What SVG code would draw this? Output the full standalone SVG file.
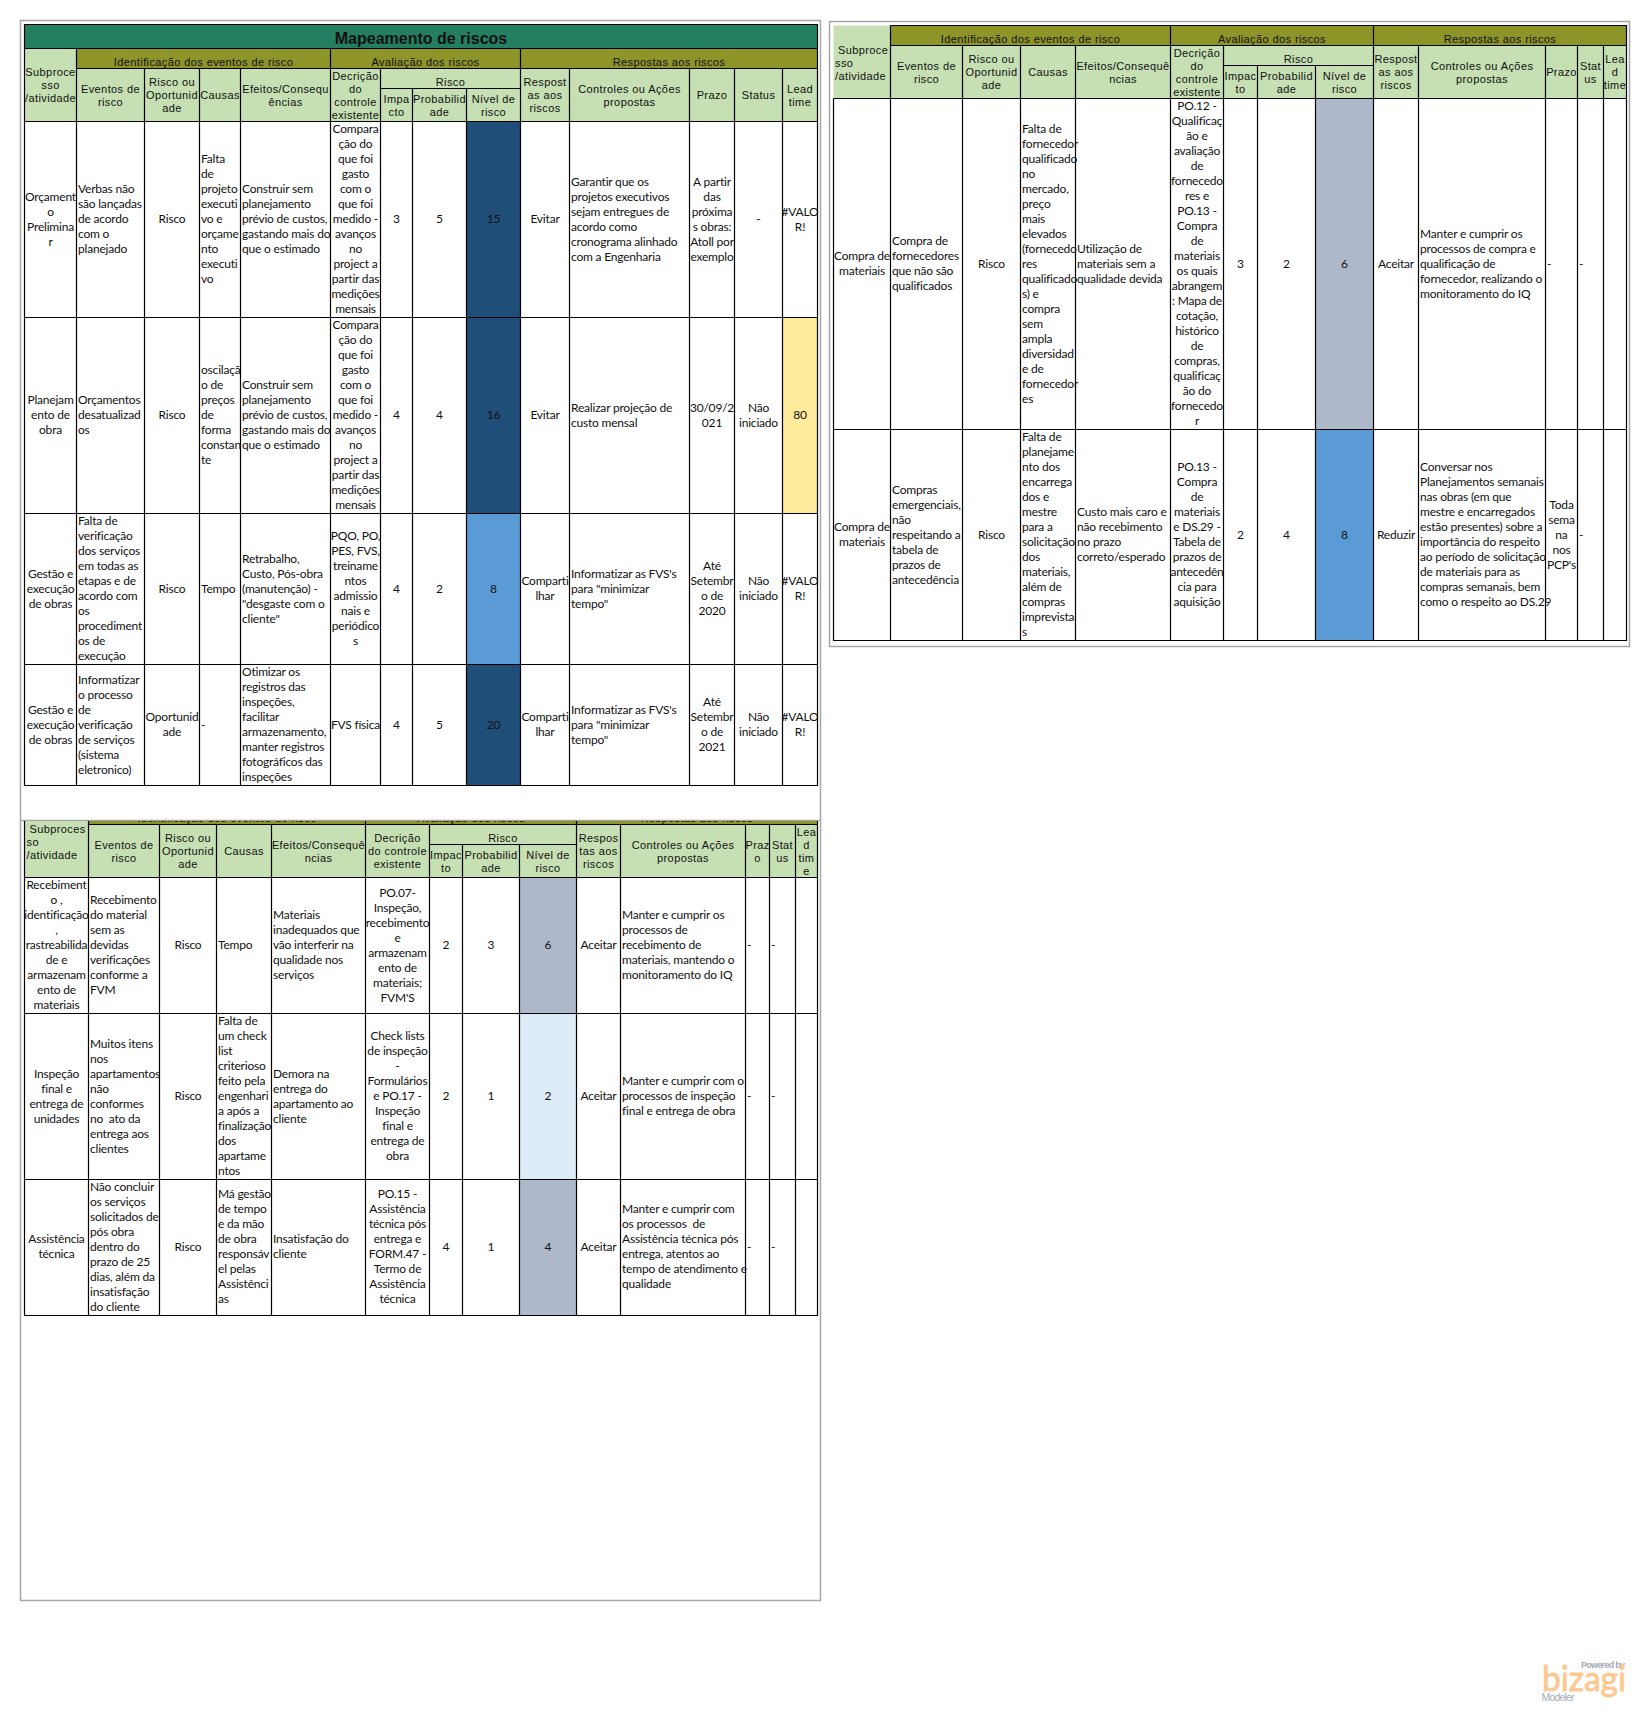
<svg xmlns="http://www.w3.org/2000/svg" width="1648" height="1713" viewBox="0 0 1648 1713">
<style>
text{fill:#111}
.h{font:11px "Liberation Sans",Arial,sans-serif;letter-spacing:.4px}
.b{font:12px Lato,"Liberation Sans",sans-serif;letter-spacing:-.2px}
.m{text-anchor:middle}
.t{font:bold 16px "Liberation Sans",Arial,sans-serif}
.frame{fill:#fff;stroke:#a6a6a6;stroke-width:1.5}
.grid{fill:none;stroke:#000;stroke-width:1.2}
.teal{fill:#247e62}.olive{fill:#8d9428}.green{fill:#c6dfb3}
.dark{fill:#1f4e78}.mid{fill:#5b9bd5}.gray{fill:#adb9ca}.pale{fill:#ddebf7}.yellow{fill:#ffeb9c}
</style>
<defs><clipPath id="clip3"><rect x="24" y="821" width="794" height="60"/></clipPath></defs>
<rect width="1648" height="1713" fill="#fff"/>
<rect class="frame" x="20.5" y="20.5" width="800" height="1580"/>
<path d="M20.5 820.5H820.5" fill="none" stroke="#a6a6a6" stroke-width="1.5"/>
<rect class="frame" x="829.5" y="21.5" width="800" height="625"/>

<g id="table-1">
<rect class="teal" x="24.5" y="24.5" width="793" height="24"/>
<rect class="green" x="24.5" y="48.5" width="793" height="73"/>
<rect class="olive" x="76.5" y="48.5" width="741" height="20"/>
<rect class="dark" x="466.5" y="121.5" width="54" height="392"/>
<rect class="mid" x="466.5" y="513.5" width="54" height="151"/>
<rect class="dark" x="466.5" y="664.5" width="54" height="121"/>
<rect class="yellow" x="782.5" y="317.5" width="35" height="196"/>
<path class="grid" d="M24.5 24.5H817.5V785.5H24.5ZM24.5 48.5H817.5M76.5 68.5H817.5M380.5 88.5H520.5M24.5 121.5H817.5M24.5 317.5H817.5M24.5 513.5H817.5M24.5 664.5H817.5M76.5 48.5V785.5M330.5 48.5V785.5M520.5 48.5V785.5M144.5 68.5V785.5M199.5 68.5V785.5M240.5 68.5V785.5M380.5 68.5V785.5M569.5 68.5V785.5M689.5 68.5V785.5M734.5 68.5V785.5M782.5 68.5V785.5M412.5 88.5V785.5M466.5 88.5V785.5"/>
<text class="t m" x="421" y="44">Mapeamento de riscos</text>
<text class="h m" x="203.5" y="66">Identificação dos eventos de risco</text>
<text class="h m" x="425.5" y="66">Avaliação dos riscos</text>
<text class="h m" x="669" y="66">Respostas aos riscos</text>
<text class="h m" x="50.5" y="76">Subproce<tspan x="50.5" dy="13">sso</tspan><tspan x="50.5" dy="13">/atividade</tspan></text>
<text class="h m" x="110.5" y="93">Eventos de<tspan x="110.5" dy="13">risco</tspan></text>
<text class="h m" x="172" y="86">Risco ou<tspan x="172" dy="13">Oportunid</tspan><tspan x="172" dy="13">ade</tspan></text>
<text class="h m" x="220" y="99">Causas</text>
<text class="h m" x="285.5" y="93">Efeitos/Consequ<tspan x="285.5" dy="13">ências</tspan></text>
<text class="h m" x="355.5" y="80">Decrição<tspan x="355.5" dy="13">do</tspan><tspan x="355.5" dy="13">controle</tspan><tspan x="355.5" dy="13">existente</tspan></text>
<text class="h m" x="450.5" y="86">Risco</text>
<text class="h m" x="396.5" y="103">Impa<tspan x="396.5" dy="13">cto</tspan></text>
<text class="h m" x="439.5" y="103">Probabilid<tspan x="439.5" dy="13">ade</tspan></text>
<text class="h m" x="493.5" y="103">Nível de<tspan x="493.5" dy="13">risco</tspan></text>
<text class="h m" x="545" y="86">Respost<tspan x="545" dy="13">as aos</tspan><tspan x="545" dy="13">riscos</tspan></text>
<text class="h m" x="629.5" y="93">Controles ou Ações<tspan x="629.5" dy="13">propostas</tspan></text>
<text class="h m" x="712" y="99">Prazo</text>
<text class="h m" x="758.5" y="99">Status</text>
<text class="h m" x="800" y="93">Lead<tspan x="800" dy="13">time</tspan></text>

<text class="b m" x="50.5" y="200.5">Orçament<tspan x="50.5" dy="15">o</tspan><tspan x="50.5" dy="15">Prelimina</tspan><tspan x="50.5" dy="15">r</tspan></text>
<text class="b" x="78" y="193">Verbas não<tspan x="78" dy="15">são lançadas</tspan><tspan x="78" dy="15">de acordo</tspan><tspan x="78" dy="15">com o</tspan><tspan x="78" dy="15">planejado</tspan></text>
<text class="b m" x="172" y="223">Risco</text>
<text class="b" x="201" y="163">Falta<tspan x="201" dy="15">de</tspan><tspan x="201" dy="15">projeto</tspan><tspan x="201" dy="15">executi</tspan><tspan x="201" dy="15">vo e</tspan><tspan x="201" dy="15">orçame</tspan><tspan x="201" dy="15">nto</tspan><tspan x="201" dy="15">executi</tspan><tspan x="201" dy="15">vo</tspan></text>
<text class="b" x="242" y="193">Construir sem<tspan x="242" dy="15">planejamento</tspan><tspan x="242" dy="15">prévio de custos,</tspan><tspan x="242" dy="15">gastando mais do</tspan><tspan x="242" dy="15">que o estimado</tspan></text>
<text class="b m" x="355.5" y="133">Compara<tspan x="355.5" dy="15">ção do</tspan><tspan x="355.5" dy="15">que foi</tspan><tspan x="355.5" dy="15">gasto</tspan><tspan x="355.5" dy="15">com o</tspan><tspan x="355.5" dy="15">que foi</tspan><tspan x="355.5" dy="15">medido -</tspan><tspan x="355.5" dy="15">avanços</tspan><tspan x="355.5" dy="15">no</tspan><tspan x="355.5" dy="15">project a</tspan><tspan x="355.5" dy="15">partir das</tspan><tspan x="355.5" dy="15">medições</tspan><tspan x="355.5" dy="15">mensais</tspan></text>
<text class="b m" x="396.5" y="223">3</text>
<text class="b m" x="439.5" y="223">5</text>
<text class="b m" x="493.5" y="223">15</text>
<text class="b m" x="545" y="223">Evitar</text>
<text class="b" x="571" y="185.5">Garantir que os<tspan x="571" dy="15">projetos executivos</tspan><tspan x="571" dy="15">sejam entregues de</tspan><tspan x="571" dy="15">acordo como</tspan><tspan x="571" dy="15">cronograma alinhado</tspan><tspan x="571" dy="15">com a Engenharia</tspan></text>
<text class="b m" x="712" y="185.5">A partir<tspan x="712" dy="15">das</tspan><tspan x="712" dy="15">próxima</tspan><tspan x="712" dy="15">s obras:</tspan><tspan x="712" dy="15">Atoll por</tspan><tspan x="712" dy="15">exemplo</tspan></text>
<text class="b m" x="758.5" y="223">-</text>
<text class="b m" x="800" y="215.5">#VALO<tspan x="800" dy="15">R!</tspan></text>

<text class="b m" x="50.5" y="404">Planejam<tspan x="50.5" dy="15">ento de</tspan><tspan x="50.5" dy="15">obra</tspan></text>
<text class="b" x="78" y="404">Orçamentos<tspan x="78" dy="15">desatualizad</tspan><tspan x="78" dy="15">os</tspan></text>
<text class="b m" x="172" y="419">Risco</text>
<text class="b" x="201" y="374">oscilaçã<tspan x="201" dy="15">o de</tspan><tspan x="201" dy="15">preços</tspan><tspan x="201" dy="15">de</tspan><tspan x="201" dy="15">forma</tspan><tspan x="201" dy="15">constan</tspan><tspan x="201" dy="15">te</tspan></text>
<text class="b" x="242" y="389">Construir sem<tspan x="242" dy="15">planejamento</tspan><tspan x="242" dy="15">prévio de custos,</tspan><tspan x="242" dy="15">gastando mais do</tspan><tspan x="242" dy="15">que o estimado</tspan></text>
<text class="b m" x="355.5" y="329">Compara<tspan x="355.5" dy="15">ção do</tspan><tspan x="355.5" dy="15">que foi</tspan><tspan x="355.5" dy="15">gasto</tspan><tspan x="355.5" dy="15">com o</tspan><tspan x="355.5" dy="15">que foi</tspan><tspan x="355.5" dy="15">medido -</tspan><tspan x="355.5" dy="15">avanços</tspan><tspan x="355.5" dy="15">no</tspan><tspan x="355.5" dy="15">project a</tspan><tspan x="355.5" dy="15">partir das</tspan><tspan x="355.5" dy="15">medições</tspan><tspan x="355.5" dy="15">mensais</tspan></text>
<text class="b m" x="396.5" y="419">4</text>
<text class="b m" x="439.5" y="419">4</text>
<text class="b m" x="493.5" y="419">16</text>
<text class="b m" x="545" y="419">Evitar</text>
<text class="b" x="571" y="411.5">Realizar projeção de<tspan x="571" dy="15">custo mensal</tspan></text>
<text class="b m" x="712" y="411.5">30/09/2<tspan x="712" dy="15">021</tspan></text>
<text class="b m" x="758.5" y="411.5">Não<tspan x="758.5" dy="15">iniciado</tspan></text>
<text class="b m" x="800" y="419">80</text>

<text class="b m" x="50.5" y="577.5">Gestão e<tspan x="50.5" dy="15">execução</tspan><tspan x="50.5" dy="15">de obras</tspan></text>
<text class="b" x="78" y="525">Falta de<tspan x="78" dy="15">verificação</tspan><tspan x="78" dy="15">dos serviços</tspan><tspan x="78" dy="15">em todas as</tspan><tspan x="78" dy="15">etapas e de</tspan><tspan x="78" dy="15">acordo com</tspan><tspan x="78" dy="15">os</tspan><tspan x="78" dy="15">procediment</tspan><tspan x="78" dy="15">os de</tspan><tspan x="78" dy="15">execução</tspan></text>
<text class="b m" x="172" y="592.5">Risco</text>
<text class="b" x="201" y="592.5">Tempo</text>
<text class="b" x="242" y="562.5">Retrabalho,<tspan x="242" dy="15">Custo, Pós-obra</tspan><tspan x="242" dy="15">(manutenção) -</tspan><tspan x="242" dy="15">"desgaste com o</tspan><tspan x="242" dy="15">cliente"</tspan></text>
<text class="b m" x="355.5" y="540">PQO, PO,<tspan x="355.5" dy="15">PES, FVS,</tspan><tspan x="355.5" dy="15">treiname</tspan><tspan x="355.5" dy="15">ntos</tspan><tspan x="355.5" dy="15">admissio</tspan><tspan x="355.5" dy="15">nais e</tspan><tspan x="355.5" dy="15">periódico</tspan><tspan x="355.5" dy="15">s</tspan></text>
<text class="b m" x="396.5" y="592.5">4</text>
<text class="b m" x="439.5" y="592.5">2</text>
<text class="b m" x="493.5" y="592.5">8</text>
<text class="b m" x="545" y="585">Comparti<tspan x="545" dy="15">lhar</tspan></text>
<text class="b" x="571" y="577.5">Informatizar as FVS's<tspan x="571" dy="15">para "minimizar</tspan><tspan x="571" dy="15">tempo"</tspan></text>
<text class="b m" x="712" y="570">Até<tspan x="712" dy="15">Setembr</tspan><tspan x="712" dy="15">o de</tspan><tspan x="712" dy="15">2020</tspan></text>
<text class="b m" x="758.5" y="585">Não<tspan x="758.5" dy="15">iniciado</tspan></text>
<text class="b m" x="800" y="585">#VALO<tspan x="800" dy="15">R!</tspan></text>

<text class="b m" x="50.5" y="713.5">Gestão e<tspan x="50.5" dy="15">execução</tspan><tspan x="50.5" dy="15">de obras</tspan></text>
<text class="b" x="78" y="683.5">Informatizar<tspan x="78" dy="15">o processo</tspan><tspan x="78" dy="15">de</tspan><tspan x="78" dy="15">verificação</tspan><tspan x="78" dy="15">de serviços</tspan><tspan x="78" dy="15">(sistema</tspan><tspan x="78" dy="15">eletronico)</tspan></text>
<text class="b m" x="172" y="721">Oportunid<tspan x="172" dy="15">ade</tspan></text>
<text class="b" x="201" y="728.5">-</text>
<text class="b" x="242" y="676">Otimizar os<tspan x="242" dy="15">registros das</tspan><tspan x="242" dy="15">inspeções,</tspan><tspan x="242" dy="15">facilitar</tspan><tspan x="242" dy="15">armazenamento,</tspan><tspan x="242" dy="15">manter registros</tspan><tspan x="242" dy="15">fotográficos das</tspan><tspan x="242" dy="15">inspeções</tspan></text>
<text class="b m" x="355.5" y="728.5">FVS física</text>
<text class="b m" x="396.5" y="728.5">4</text>
<text class="b m" x="439.5" y="728.5">5</text>
<text class="b m" x="493.5" y="728.5">20</text>
<text class="b m" x="545" y="721">Comparti<tspan x="545" dy="15">lhar</tspan></text>
<text class="b" x="571" y="713.5">Informatizar as FVS's<tspan x="571" dy="15">para "minimizar</tspan><tspan x="571" dy="15">tempo"</tspan></text>
<text class="b m" x="712" y="706">Até<tspan x="712" dy="15">Setembr</tspan><tspan x="712" dy="15">o de</tspan><tspan x="712" dy="15">2021</tspan></text>
<text class="b m" x="758.5" y="721">Não<tspan x="758.5" dy="15">iniciado</tspan></text>
<text class="b m" x="800" y="721">#VALO<tspan x="800" dy="15">R!</tspan></text>
</g>

<g id="table-2" transform="translate(1 0)">
<rect class="green" x="832.5" y="25.5" width="793" height="73"/>
<rect class="olive" x="889.5" y="25.5" width="736" height="20"/>
<rect class="gray" x="1314.5" y="98.5" width="58" height="331"/>
<rect class="mid" x="1314.5" y="429.5" width="58" height="211"/>
<path class="grid" d="M889.5 25.5H1625.5V640.5H832.5V98.5M889.5 45.5H1625.5M1222.5 65.5H1372.5M832.5 98.5H1625.5M832.5 429.5H1625.5M889.5 25.5V640.5M1169.5 25.5V640.5M1372.5 25.5V640.5M961.5 45.5V640.5M1019.5 45.5V640.5M1074.5 45.5V640.5M1222.5 45.5V640.5M1417.5 45.5V640.5M1544.5 45.5V640.5M1576.5 45.5V640.5M1602.5 45.5V640.5M1256.5 65.5V640.5M1314.5 65.5V640.5"/>
<text class="h m" x="1029.5" y="43">Identificação dos eventos de risco</text>
<text class="h m" x="1271" y="43">Avaliação dos riscos</text>
<text class="h m" x="1499" y="43">Respostas aos riscos</text>
<text class="h" x="837" y="54">Subproce<tspan x="834" dy="13">sso</tspan><tspan x="834" dy="13">/atividade</tspan></text>
<text class="h m" x="925.5" y="70">Eventos de<tspan x="925.5" dy="13">risco</tspan></text>
<text class="h m" x="990.5" y="63">Risco ou<tspan x="990.5" dy="13">Oportunid</tspan><tspan x="990.5" dy="13">ade</tspan></text>
<text class="h m" x="1047" y="76">Causas</text>
<text class="h m" x="1122" y="70">Efeitos/Consequê<tspan x="1122" dy="13">ncias</tspan></text>
<text class="h m" x="1196" y="57">Decrição<tspan x="1196" dy="13">do</tspan><tspan x="1196" dy="13">controle</tspan><tspan x="1196" dy="13">existente</tspan></text>
<text class="h m" x="1297.5" y="63">Risco</text>
<text class="h m" x="1239.5" y="80">Impac<tspan x="1239.5" dy="13">to</tspan></text>
<text class="h m" x="1285.5" y="80">Probabilid<tspan x="1285.5" dy="13">ade</tspan></text>
<text class="h m" x="1343.5" y="80">Nível de<tspan x="1343.5" dy="13">risco</tspan></text>
<text class="h m" x="1395" y="63">Respost<tspan x="1395" dy="13">as aos</tspan><tspan x="1395" dy="13">riscos</tspan></text>
<text class="h m" x="1481" y="70">Controles ou Ações<tspan x="1481" dy="13">propostas</tspan></text>
<text class="h m" x="1560.5" y="76">Prazo</text>
<text class="h m" x="1589.5" y="70">Stat<tspan x="1589.5" dy="13">us</tspan></text>
<text class="h m" x="1614" y="63">Lea<tspan x="1614" dy="13">d</tspan><tspan x="1614" dy="13">time</tspan></text>

<text class="b m" x="861" y="260">Compra de<tspan x="861" dy="15">materiais</tspan></text>
<text class="b" x="891" y="245">Compra de<tspan x="891" dy="15">fornecedores</tspan><tspan x="891" dy="15">que não são</tspan><tspan x="891" dy="15">qualificados</tspan></text>
<text class="b m" x="990.5" y="267.5">Risco</text>
<text class="b" x="1021" y="132.5">Falta de<tspan x="1021" dy="15">fornecedor</tspan><tspan x="1021" dy="15">qualificado</tspan><tspan x="1021" dy="15">no</tspan><tspan x="1021" dy="15">mercado,</tspan><tspan x="1021" dy="15">preço</tspan><tspan x="1021" dy="15">mais</tspan><tspan x="1021" dy="15">elevados</tspan><tspan x="1021" dy="15">(fornecedo</tspan><tspan x="1021" dy="15">res</tspan><tspan x="1021" dy="15">qualificado</tspan><tspan x="1021" dy="15">s) e</tspan><tspan x="1021" dy="15">compra</tspan><tspan x="1021" dy="15">sem</tspan><tspan x="1021" dy="15">ampla</tspan><tspan x="1021" dy="15">diversidad</tspan><tspan x="1021" dy="15">e de</tspan><tspan x="1021" dy="15">fornecedor</tspan><tspan x="1021" dy="15">es</tspan></text>
<text class="b" x="1076" y="252.5">Utilização de<tspan x="1076" dy="15">materiais sem a</tspan><tspan x="1076" dy="15">qualidade devida</tspan></text>
<text class="b m" x="1196" y="110">PO.12 -<tspan x="1196" dy="15">Qualificaç</tspan><tspan x="1196" dy="15">ão e</tspan><tspan x="1196" dy="15">avaliação</tspan><tspan x="1196" dy="15">de</tspan><tspan x="1196" dy="15">fornecedo</tspan><tspan x="1196" dy="15">res e</tspan><tspan x="1196" dy="15">PO.13 -</tspan><tspan x="1196" dy="15">Compra</tspan><tspan x="1196" dy="15">de</tspan><tspan x="1196" dy="15">materiais</tspan><tspan x="1196" dy="15">os quais</tspan><tspan x="1196" dy="15">abrangem</tspan><tspan x="1196" dy="15">: Mapa de</tspan><tspan x="1196" dy="15">cotação,</tspan><tspan x="1196" dy="15">histórico</tspan><tspan x="1196" dy="15">de</tspan><tspan x="1196" dy="15">compras,</tspan><tspan x="1196" dy="15">qualificaç</tspan><tspan x="1196" dy="15">ão do</tspan><tspan x="1196" dy="15">fornecedo</tspan><tspan x="1196" dy="15">r</tspan></text>
<text class="b m" x="1239.5" y="267.5">3</text>
<text class="b m" x="1285.5" y="267.5">2</text>
<text class="b m" x="1343.5" y="267.5">6</text>
<text class="b m" x="1395" y="267.5">Aceitar</text>
<text class="b" x="1419" y="237.5">Manter e cumprir os<tspan x="1419" dy="15">processos de compra e</tspan><tspan x="1419" dy="15">qualificação de</tspan><tspan x="1419" dy="15">fornecedor, realizando o</tspan><tspan x="1419" dy="15">monitoramento do IQ</tspan></text>
<text class="b" x="1546" y="267.5">-</text>
<text class="b" x="1578" y="267.5">-</text>

<text class="b m" x="861" y="531">Compra de<tspan x="861" dy="15">materiais</tspan></text>
<text class="b" x="891" y="493.5">Compras<tspan x="891" dy="15">emergenciais,</tspan><tspan x="891" dy="15">não</tspan><tspan x="891" dy="15">respeitando a</tspan><tspan x="891" dy="15">tabela de</tspan><tspan x="891" dy="15">prazos de</tspan><tspan x="891" dy="15">antecedência</tspan></text>
<text class="b m" x="990.5" y="538.5">Risco</text>
<text class="b" x="1021" y="441">Falta de<tspan x="1021" dy="15">planejame</tspan><tspan x="1021" dy="15">nto dos</tspan><tspan x="1021" dy="15">encarrega</tspan><tspan x="1021" dy="15">dos e</tspan><tspan x="1021" dy="15">mestre</tspan><tspan x="1021" dy="15">para a</tspan><tspan x="1021" dy="15">solicitação</tspan><tspan x="1021" dy="15">dos</tspan><tspan x="1021" dy="15">materiais,</tspan><tspan x="1021" dy="15">além de</tspan><tspan x="1021" dy="15">compras</tspan><tspan x="1021" dy="15">imprevista</tspan><tspan x="1021" dy="15">s</tspan></text>
<text class="b" x="1076" y="516">Custo mais caro e<tspan x="1076" dy="15">não recebimento</tspan><tspan x="1076" dy="15">no prazo</tspan><tspan x="1076" dy="15">correto/esperado</tspan></text>
<text class="b m" x="1196" y="471">PO.13 -<tspan x="1196" dy="15">Compra</tspan><tspan x="1196" dy="15">de</tspan><tspan x="1196" dy="15">materiais</tspan><tspan x="1196" dy="15">e DS.29 -</tspan><tspan x="1196" dy="15">Tabela de</tspan><tspan x="1196" dy="15">prazos de</tspan><tspan x="1196" dy="15">antecedên</tspan><tspan x="1196" dy="15">cia para</tspan><tspan x="1196" dy="15">aquisição</tspan></text>
<text class="b m" x="1239.5" y="538.5">2</text>
<text class="b m" x="1285.5" y="538.5">4</text>
<text class="b m" x="1343.5" y="538.5">8</text>
<text class="b m" x="1395" y="538.5">Reduzir</text>
<text class="b" x="1419" y="471">Conversar nos<tspan x="1419" dy="15">Planejamentos semanais</tspan><tspan x="1419" dy="15">nas obras (em que</tspan><tspan x="1419" dy="15">mestre e encarregados</tspan><tspan x="1419" dy="15">estão presentes) sobre a</tspan><tspan x="1419" dy="15">importância do respeito</tspan><tspan x="1419" dy="15">ao período de solicitação</tspan><tspan x="1419" dy="15">de materiais para as</tspan><tspan x="1419" dy="15">compras semanais, bem</tspan><tspan x="1419" dy="15">como o respeito ao DS.29</tspan></text>
<text class="b m" x="1560.5" y="508.5">Toda<tspan x="1560.5" dy="15">sema</tspan><tspan x="1560.5" dy="15">na</tspan><tspan x="1560.5" dy="15">nos</tspan><tspan x="1560.5" dy="15">PCP's</tspan></text>
<text class="b" x="1578" y="538.5">-</text>
</g>

<g id="table-3">
<rect class="green" x="24.5" y="821" width="793" height="56.5"/>
<rect class="olive" x="88.5" y="821" width="729" height="3.5"/>
<rect class="gray" x="519.5" y="877.5" width="57" height="136"/>
<rect class="pale" x="519.5" y="1013.5" width="57" height="166"/>
<rect class="gray" x="519.5" y="1179.5" width="57" height="136"/>
<path class="grid" d="M24.5 821V1315.5H817.5V821M88.5 824.5H817.5M429.5 844.5H576.5M24.5 877.5H817.5M24.5 1013.5H817.5M24.5 1179.5H817.5M88.5 821V1315.5M365.5 821V1315.5M576.5 821V1315.5M159.5 824.5V1315.5M216.5 824.5V1315.5M271.5 824.5V1315.5M429.5 824.5V1315.5M620.5 824.5V1315.5M745.5 824.5V1315.5M769.5 824.5V1315.5M795.5 824.5V1315.5M462.5 844.5V1315.5M519.5 844.5V1315.5"/>
<g clip-path="url(#clip3)">
<text class="h m" x="227" y="822">Identificação dos eventos de risco</text>
<text class="h m" x="471" y="822">Avaliação dos riscos</text>
<text class="h m" x="697" y="822">Respostas aos riscos</text>
</g>
<text class="h" x="29.5" y="833">Subproces<tspan x="26.5" dy="13">so</tspan><tspan x="26.5" dy="13">/atividade</tspan></text>
<text class="h m" x="124" y="849">Eventos de<tspan x="124" dy="13">risco</tspan></text>
<text class="h m" x="188" y="842">Risco ou<tspan x="188" dy="13">Oportunid</tspan><tspan x="188" dy="13">ade</tspan></text>
<text class="h m" x="244" y="855">Causas</text>
<text class="h m" x="318.5" y="849">Efeitos/Consequê<tspan x="318.5" dy="13">ncias</tspan></text>
<text class="h m" x="397.5" y="842">Decrição<tspan x="397.5" dy="13">do controle</tspan><tspan x="397.5" dy="13">existente</tspan></text>
<text class="h m" x="503" y="842">Risco</text>
<text class="h m" x="446" y="859">Impac<tspan x="446" dy="13">to</tspan></text>
<text class="h m" x="491" y="859">Probabilid<tspan x="491" dy="13">ade</tspan></text>
<text class="h m" x="548" y="859">Nível de<tspan x="548" dy="13">risco</tspan></text>
<text class="h m" x="598.5" y="842">Respos<tspan x="598.5" dy="13">tas aos</tspan><tspan x="598.5" dy="13">riscos</tspan></text>
<text class="h m" x="683" y="849">Controles ou Ações<tspan x="683" dy="13">propostas</tspan></text>
<text class="h m" x="757.5" y="849">Praz<tspan x="757.5" dy="13">o</tspan></text>
<text class="h m" x="782.5" y="849">Stat<tspan x="782.5" dy="13">us</tspan></text>
<text class="h m" x="806.5" y="836">Lea<tspan x="806.5" dy="13">d</tspan><tspan x="806.5" dy="13">tim</tspan><tspan x="806.5" dy="13">e</tspan></text>

<text class="b m" x="56.5" y="889">Recebiment<tspan x="56.5" dy="15">o ,</tspan><tspan x="56.5" dy="15">identificação</tspan><tspan x="56.5" dy="15">,</tspan><tspan x="56.5" dy="15">rastreabilida</tspan><tspan x="56.5" dy="15">de e</tspan><tspan x="56.5" dy="15">armazenam</tspan><tspan x="56.5" dy="15">ento de</tspan><tspan x="56.5" dy="15">materiais</tspan></text>
<text class="b" x="90" y="904">Recebimento<tspan x="90" dy="15">do material</tspan><tspan x="90" dy="15">sem as</tspan><tspan x="90" dy="15">devidas</tspan><tspan x="90" dy="15">verificações</tspan><tspan x="90" dy="15">conforme a</tspan><tspan x="90" dy="15">FVM</tspan></text>
<text class="b m" x="188" y="949">Risco</text>
<text class="b" x="218" y="949">Tempo</text>
<text class="b" x="273" y="919">Materiais<tspan x="273" dy="15">inadequados que</tspan><tspan x="273" dy="15">vão interferir na</tspan><tspan x="273" dy="15">qualidade nos</tspan><tspan x="273" dy="15">serviços</tspan></text>
<text class="b m" x="397.5" y="896.5">PO.07-<tspan x="397.5" dy="15">Inspeção,</tspan><tspan x="397.5" dy="15">recebimento</tspan><tspan x="397.5" dy="15">e</tspan><tspan x="397.5" dy="15">armazenam</tspan><tspan x="397.5" dy="15">ento de</tspan><tspan x="397.5" dy="15">materiais;</tspan><tspan x="397.5" dy="15">FVM'S</tspan></text>
<text class="b m" x="446" y="949">2</text>
<text class="b m" x="491" y="949">3</text>
<text class="b m" x="548" y="949">6</text>
<text class="b m" x="598.5" y="949">Aceitar</text>
<text class="b" x="622" y="919">Manter e cumprir os<tspan x="622" dy="15">processos de</tspan><tspan x="622" dy="15">recebimento de</tspan><tspan x="622" dy="15">materiais, mantendo o</tspan><tspan x="622" dy="15">monitoramento do IQ</tspan></text>
<text class="b" x="747" y="949">-</text>
<text class="b" x="771" y="949">-</text>

<text class="b m" x="56.5" y="1077.5">Inspeção<tspan x="56.5" dy="15">final e</tspan><tspan x="56.5" dy="15">entrega de</tspan><tspan x="56.5" dy="15">unidades</tspan></text>
<text class="b" x="90" y="1047.5">Muitos itens<tspan x="90" dy="15">nos</tspan><tspan x="90" dy="15">apartamentos</tspan><tspan x="90" dy="15">não</tspan><tspan x="90" dy="15">conformes</tspan><tspan x="90" dy="15" xml:space="preserve">no  ato da</tspan><tspan x="90" dy="15">entrega aos</tspan><tspan x="90" dy="15">clientes</tspan></text>
<text class="b m" x="188" y="1100">Risco</text>
<text class="b" x="218" y="1025">Falta de<tspan x="218" dy="15">um check</tspan><tspan x="218" dy="15">list</tspan><tspan x="218" dy="15">criterioso</tspan><tspan x="218" dy="15">feito pela</tspan><tspan x="218" dy="15">engenhari</tspan><tspan x="218" dy="15">a após a</tspan><tspan x="218" dy="15">finalização</tspan><tspan x="218" dy="15">dos</tspan><tspan x="218" dy="15">apartame</tspan><tspan x="218" dy="15">ntos</tspan></text>
<text class="b" x="273" y="1077.5">Demora na<tspan x="273" dy="15">entrega do</tspan><tspan x="273" dy="15">apartamento ao</tspan><tspan x="273" dy="15">cliente</tspan></text>
<text class="b m" x="397.5" y="1040">Check lists<tspan x="397.5" dy="15">de inspeção</tspan><tspan x="397.5" dy="15">-</tspan><tspan x="397.5" dy="15">Formulários</tspan><tspan x="397.5" dy="15">e PO.17 -</tspan><tspan x="397.5" dy="15">Inspeção</tspan><tspan x="397.5" dy="15">final e</tspan><tspan x="397.5" dy="15">entrega de</tspan><tspan x="397.5" dy="15">obra</tspan></text>
<text class="b m" x="446" y="1100">2</text>
<text class="b m" x="491" y="1100">1</text>
<text class="b m" x="548" y="1100">2</text>
<text class="b m" x="598.5" y="1100">Aceitar</text>
<text class="b" x="622" y="1085">Manter e cumprir com o<tspan x="622" dy="15">processos de inspeção</tspan><tspan x="622" dy="15">final e entrega de obra</tspan></text>
<text class="b" x="747" y="1100">-</text>
<text class="b" x="771" y="1100">-</text>

<text class="b m" x="56.5" y="1243">Assistência<tspan x="56.5" dy="15">técnica</tspan></text>
<text class="b" x="90" y="1190.5">Não concluir<tspan x="90" dy="15">os serviços</tspan><tspan x="90" dy="15">solicitados de</tspan><tspan x="90" dy="15">pós obra</tspan><tspan x="90" dy="15">dentro do</tspan><tspan x="90" dy="15">prazo de 25</tspan><tspan x="90" dy="15">dias, além da</tspan><tspan x="90" dy="15">insatisfação</tspan><tspan x="90" dy="15">do cliente</tspan></text>
<text class="b m" x="188" y="1250.5">Risco</text>
<text class="b" x="218" y="1198">Má gestão<tspan x="218" dy="15">de tempo</tspan><tspan x="218" dy="15">e da mão</tspan><tspan x="218" dy="15">de obra</tspan><tspan x="218" dy="15">responsáv</tspan><tspan x="218" dy="15">el pelas</tspan><tspan x="218" dy="15">Assistênci</tspan><tspan x="218" dy="15">as</tspan></text>
<text class="b" x="273" y="1243">Insatisfação do<tspan x="273" dy="15">cliente</tspan></text>
<text class="b m" x="397.5" y="1198">PO.15 -<tspan x="397.5" dy="15">Assistência</tspan><tspan x="397.5" dy="15">técnica pós</tspan><tspan x="397.5" dy="15">entrega e</tspan><tspan x="397.5" dy="15">FORM.47 -</tspan><tspan x="397.5" dy="15">Termo de</tspan><tspan x="397.5" dy="15">Assistência</tspan><tspan x="397.5" dy="15">técnica</tspan></text>
<text class="b m" x="446" y="1250.5">4</text>
<text class="b m" x="491" y="1250.5">1</text>
<text class="b m" x="548" y="1250.5">4</text>
<text class="b m" x="598.5" y="1250.5">Aceitar</text>
<text class="b" x="622" y="1213">Manter e cumprir com<tspan x="622" dy="15" xml:space="preserve">os processos  de</tspan><tspan x="622" dy="15">Assistência técnica pós</tspan><tspan x="622" dy="15">entrega, atentos ao</tspan><tspan x="622" dy="15">tempo de atendimento e</tspan><tspan x="622" dy="15">qualidade</tspan></text>
<text class="b" x="747" y="1250.5">-</text>
<text class="b" x="771" y="1250.5">-</text>
</g>

<g id="logo">
<text x="1581" y="1668" font-family="Liberation Sans,sans-serif" font-size="9" font-weight="bold" style="fill:#a3acb6" textLength="44">Powered by</text>
<text x="1542" y="1691" font-family="Lato,sans-serif" font-size="35" style="fill:#fbc88f;stroke:#fbc88f;stroke-width:.8" textLength="84" lengthAdjust="spacingAndGlyphs">bizagi</text>
<text x="1541.5" y="1701" font-family="Liberation Sans,sans-serif" font-size="10.5" style="fill:#a3acb6" textLength="33">Modeler</text>
</g>
</svg>
